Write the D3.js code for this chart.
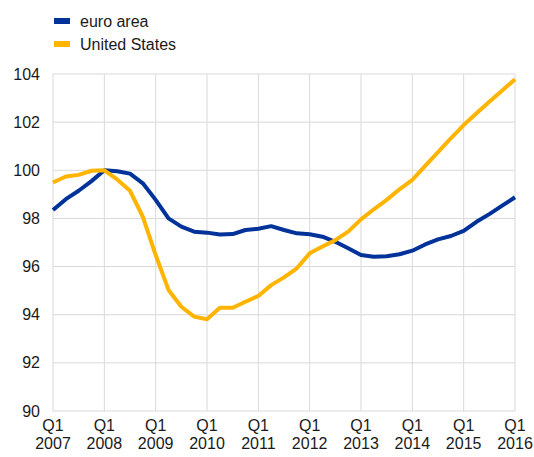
<!DOCTYPE html>
<html>
<head>
<meta charset="utf-8">
<script src="https://cdn.jsdelivr.net/npm/d3@7"></script>
<style>
  html, body { margin: 0; padding: 0; background: #fff; }
  svg { display: block; font-family: Arial, "Liberation Sans", sans-serif; }
</style>
</head>
<body>
<svg id="chart" width="534" height="457"></svg>
<script>
// Quarterly index, Q1 2008 = 100, from Q1 2007 to Q1 2016
const quarters = d3.range(37); // 0 = Q1 2007
const yearTicks = [2007, 2008, 2009, 2010, 2011, 2012, 2013, 2014, 2015, 2016];
const yTicks = [90, 92, 94, 96, 98, 100, 102, 104];

const euroArea = [
  98.35, 98.80, 99.15, 99.55, 100.00, 99.96, 99.86, 99.46,
  98.77, 98.00, 97.66, 97.45, 97.41, 97.33, 97.35, 97.52,
  97.57, 97.68, 97.52, 97.38, 97.34, 97.24, 97.03, 96.76,
  96.48, 96.41, 96.43, 96.51, 96.66, 96.92, 97.13, 97.27,
  97.48, 97.86, 98.18, 98.53, 98.88
];
const unitedStates = [
  99.49, 99.74, 99.81, 99.98, 100.00, 99.62, 99.15, 98.07,
  96.48, 95.03, 94.33, 93.92, 93.81, 94.29, 94.29, 94.54,
  94.78, 95.23, 95.55, 95.93, 96.55, 96.83, 97.10, 97.45,
  97.96, 98.38, 98.77, 99.21, 99.60, 100.18, 100.75, 101.33,
  101.88, 102.37, 102.85, 103.31, 103.78
];

const seriesNames = ["euro area", "United States"];
const seriesColors = ["#003299", "#ffb400"];

const svg = d3.select("#chart");
const margin = { left: 53, right: 19, top: 74, bottom: 46 };
const W = 534, H = 457;

const x = d3.scaleLinear().domain([0, 36]).range([margin.left, W - margin.right]);
const y = d3.scaleLinear().domain([90, 104]).range([H - margin.bottom, margin.top]);

const grid = svg.append("g");
// horizontal gridlines
grid.selectAll("line.h").data(yTicks).join("line")
  .attr("x1", x(0)).attr("x2", x(36))
  .attr("y1", d => y(d)).attr("y2", d => y(d))
  .attr("stroke", "#d9d9d9").attr("stroke-width", 1);
// vertical gridlines at each Q1
grid.selectAll("line.v").data(yearTicks).join("line")
  .attr("x1", d => x((d - 2007) * 4)).attr("x2", d => x((d - 2007) * 4))
  .attr("y1", y(90)).attr("y2", y(104))
  .attr("stroke", "#d9d9d9").attr("stroke-width", 1);

// y tick labels
svg.append("g").selectAll("text").data(yTicks).join("text")
  .attr("x", 40).attr("y", d => y(d)).attr("dy", "0.35em")
  .attr("text-anchor", "end").attr("font-size", 16).attr("fill", "#1a1a1a")
  .text(d => d);

// x tick labels (two lines)
const xl = svg.append("g").selectAll("text").data(yearTicks).join("text")
  .attr("text-anchor", "middle").attr("font-size", 16).attr("fill", "#1a1a1a");
xl.append("tspan").attr("x", d => x((d - 2007) * 4)).attr("y", 431).text("Q1");
xl.append("tspan").attr("x", d => x((d - 2007) * 4)).attr("y", 449).text(d => d);

// lines
const line = d3.line().x((d, i) => x(quarters[i])).y(d => y(d));
[euroArea, unitedStates].forEach((s, k) => {
  svg.append("path").datum(s)
    .attr("d", line)
    .attr("fill", "none")
    .attr("stroke", seriesColors[k])
    .attr("stroke-width", 4)
    .attr("stroke-linejoin", "round");
});

// legend
const lg = svg.append("g").selectAll("g").data(seriesNames).join("g")
  .attr("transform", (d, i) => `translate(54, ${18 + i * 23})`);
lg.append("rect").attr("width", 16).attr("height", 6).attr("fill", (d, i) => seriesColors[i]);
lg.append("text").attr("x", 26).attr("y", 3).attr("dy", "0.35em")
  .attr("font-size", 16).attr("fill", "#1a1a1a").text(d => d);
</script>
</body>
</html>
